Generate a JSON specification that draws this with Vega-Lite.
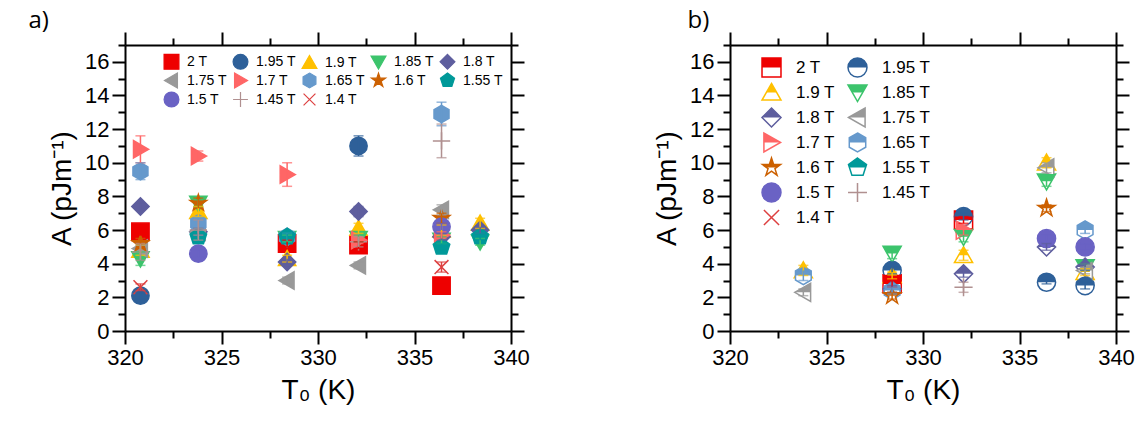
{
  "$schema": "https://vega.github.io/schema/vega-lite/v6.json",
  "padding": {"left": 28, "top": 9, "right": 5, "bottom": 5},
  "spacing": 123,
  "resolve": {"scale": {"fill": "independent", "stroke": "independent", "shape": "independent", "color": "independent"}, "legend": {"fill": "independent", "stroke": "independent", "shape": "independent", "color": "independent"}},
  "datasets": {
    "a": [
      {"s": "2 T", "x": 320.8, "A": 5.9, "e": 0.2},
      {"s": "2 T", "x": 328.4, "A": 5.2, "e": 0.2},
      {"s": "2 T", "x": 332.1, "A": 5.1, "e": 0.2},
      {"s": "2 T", "x": 336.4, "A": 2.7, "e": 0.1},
      {"s": "1.95 T", "x": 320.8, "A": 2.1, "e": 0.2},
      {"s": "1.95 T", "x": 332.1, "A": 11.0, "e": 0.6},
      {"s": "1.9 T", "x": 320.8, "A": 4.8, "e": 0.3},
      {"s": "1.9 T", "x": 323.8, "A": 7.1, "e": 0.3},
      {"s": "1.9 T", "x": 328.4, "A": 4.3, "e": 0.2},
      {"s": "1.9 T", "x": 332.1, "A": 6.1, "e": 0.3},
      {"s": "1.9 T", "x": 336.4, "A": 6.0, "e": 0.3},
      {"s": "1.9 T", "x": 338.4, "A": 6.4, "e": 0.3},
      {"s": "1.85 T", "x": 320.8, "A": 4.3, "e": 0.4},
      {"s": "1.85 T", "x": 323.8, "A": 7.6, "e": 0.2},
      {"s": "1.85 T", "x": 328.4, "A": 5.5, "e": 0.2},
      {"s": "1.85 T", "x": 332.1, "A": 5.5, "e": 0.2},
      {"s": "1.85 T", "x": 336.4, "A": 5.4, "e": 0.2},
      {"s": "1.85 T", "x": 338.4, "A": 5.3, "e": 0.2},
      {"s": "1.8 T", "x": 320.8, "A": 7.4, "e": 0.2},
      {"s": "1.8 T", "x": 323.8, "A": 5.9, "e": 0.2},
      {"s": "1.8 T", "x": 328.4, "A": 4.1, "e": 0.2},
      {"s": "1.8 T", "x": 332.1, "A": 7.1, "e": 0.3},
      {"s": "1.8 T", "x": 336.4, "A": 5.6, "e": 0.2},
      {"s": "1.8 T", "x": 338.4, "A": 6.0, "e": 0.2},
      {"s": "1.75 T", "x": 320.8, "A": 4.9, "e": 0.2},
      {"s": "1.75 T", "x": 323.8, "A": 5.9, "e": 0.2},
      {"s": "1.75 T", "x": 328.4, "A": 3.0, "e": 0.2},
      {"s": "1.75 T", "x": 332.1, "A": 3.9, "e": 0.2},
      {"s": "1.75 T", "x": 336.4, "A": 7.2, "e": 0.3},
      {"s": "1.7 T", "x": 320.8, "A": 10.8, "e": 0.8},
      {"s": "1.7 T", "x": 323.8, "A": 10.4, "e": 0.3},
      {"s": "1.7 T", "x": 328.4, "A": 9.3, "e": 0.7},
      {"s": "1.7 T", "x": 332.1, "A": 5.4, "e": 0.2},
      {"s": "1.7 T", "x": 336.4, "A": 5.7, "e": 0.2},
      {"s": "1.65 T", "x": 320.8, "A": 9.5, "e": 0.5},
      {"s": "1.65 T", "x": 323.8, "A": 6.4, "e": 0.3},
      {"s": "1.65 T", "x": 328.4, "A": 5.6, "e": 0.2},
      {"s": "1.65 T", "x": 336.4, "A": 12.9, "e": 0.7},
      {"s": "1.6 T", "x": 320.8, "A": 5.2, "e": 0.3},
      {"s": "1.6 T", "x": 323.8, "A": 7.6, "e": 0.3},
      {"s": "1.6 T", "x": 336.4, "A": 6.7, "e": 0.3},
      {"s": "1.55 T", "x": 323.8, "A": 5.6, "e": 0.2},
      {"s": "1.55 T", "x": 328.4, "A": 5.6, "e": 0.2},
      {"s": "1.55 T", "x": 336.4, "A": 5.0, "e": 0.2},
      {"s": "1.55 T", "x": 338.4, "A": 5.6, "e": 0.2},
      {"s": "1.5 T", "x": 323.8, "A": 4.6, "e": 0.2},
      {"s": "1.5 T", "x": 336.4, "A": 6.2, "e": 0.2},
      {"s": "1.45 T", "x": 320.8, "A": 4.7, "e": 0.5},
      {"s": "1.45 T", "x": 323.8, "A": 6.0, "e": 0.6},
      {"s": "1.45 T", "x": 332.1, "A": 5.3, "e": 0.3},
      {"s": "1.45 T", "x": 336.4, "A": 11.3, "e": 1.0},
      {"s": "1.4 T", "x": 320.8, "A": 2.6, "e": 0.2},
      {"s": "1.4 T", "x": 336.4, "A": 3.8, "e": 0.3}
    ],
    "b": [
      {"s": "2 T", "x": 328.4, "A": 2.8, "e": 0.2},
      {"s": "2 T", "x": 332.1, "A": 6.6, "e": 0.2},
      {"s": "1.95 T", "x": 328.4, "A": 3.6, "e": 0.2},
      {"s": "1.95 T", "x": 332.1, "A": 6.8, "e": 0.2},
      {"s": "1.95 T", "x": 336.4, "A": 2.9, "e": 0.1},
      {"s": "1.95 T", "x": 338.4, "A": 2.7, "e": 0.2},
      {"s": "1.9 T", "x": 323.8, "A": 3.6, "e": 0.3},
      {"s": "1.9 T", "x": 328.4, "A": 3.3, "e": 0.2},
      {"s": "1.9 T", "x": 332.1, "A": 4.5, "e": 0.3},
      {"s": "1.9 T", "x": 336.4, "A": 10.0, "e": 0.3},
      {"s": "1.9 T", "x": 338.4, "A": 3.5, "e": 0.2},
      {"s": "1.85 T", "x": 328.4, "A": 4.6, "e": 0.3},
      {"s": "1.85 T", "x": 332.1, "A": 5.6, "e": 0.3},
      {"s": "1.85 T", "x": 336.4, "A": 8.9, "e": 0.3},
      {"s": "1.85 T", "x": 338.4, "A": 3.8, "e": 0.2},
      {"s": "1.8 T", "x": 328.4, "A": 2.5, "e": 0.2},
      {"s": "1.8 T", "x": 332.1, "A": 3.4, "e": 0.2},
      {"s": "1.8 T", "x": 336.4, "A": 5.0, "e": 0.2},
      {"s": "1.8 T", "x": 338.4, "A": 3.8, "e": 0.2},
      {"s": "1.75 T", "x": 323.8, "A": 2.3, "e": 0.2},
      {"s": "1.75 T", "x": 336.4, "A": 9.7, "e": 0.3},
      {"s": "1.75 T", "x": 338.4, "A": 3.6, "e": 0.2},
      {"s": "1.7 T", "x": 332.1, "A": 6.0, "e": 0.3},
      {"s": "1.65 T", "x": 323.8, "A": 3.3, "e": 0.3},
      {"s": "1.65 T", "x": 328.4, "A": 2.4, "e": 0.2},
      {"s": "1.65 T", "x": 338.4, "A": 6.0, "e": 0.2},
      {"s": "1.6 T", "x": 328.4, "A": 2.1, "e": 0.2},
      {"s": "1.6 T", "x": 336.4, "A": 7.3, "e": 0.2},
      {"s": "1.5 T", "x": 336.4, "A": 5.5, "e": 0.2},
      {"s": "1.5 T", "x": 338.4, "A": 5.0, "e": 0.2},
      {"s": "1.45 T", "x": 332.1, "A": 2.6, "e": 0.3}
    ]
  },
  "hconcat": [
    {
      "width": 386,
      "height": 286,
      "title": {"text": "a)", "anchor": "start", "frame": "bounds", "fontSize": 24, "fontWeight": "normal", "font": "Open Sans", "offset": -2, "dx": -20},
      "data": {"name": "a"},
      "layer": [
        {
          "mark": {"type": "point", "filled": true, "size": 300, "strokeWidth": 1.5, "opacity": 1},
          "encoding": {
            "x": {"field": "x", "type": "quantitative", "scale": {"domain": [320, 340], "nice": false},
              "axis": {"orient": "bottom", "title": "T₀ (K)", "values": [320, 322.5, 325, 327.5, 330, 332.5, 335, 337.5, 340], "format": "d", "labelExpr": "datum.value % 5 == 0 ? datum.label : ''", "tickSize": {"condition": {"test": "datum.value % 5 == 0", "value": 13}, "value": 7}, "labelOverlap": false, "labelFlush": false}},
            "y": {"field": "A", "type": "quantitative", "scale": {"domain": [0, 17], "nice": false},
              "axis": {"orient": "left", "title": "A (pJm⁻¹)", "values": [0, 1, 2, 3, 4, 5, 6, 7, 8, 9, 10, 11, 12, 13, 14, 15, 16, 17], "labelExpr": "datum.value % 2 == 0 ? datum.label : ''", "tickSize": {"condition": {"test": "datum.value % 2 == 0", "value": 13}, "value": 7}, "labelOverlap": false, "labelFlush": false}},
            "fill": {"field": "s", "type": "nominal", "scale": {"domain": ["2 T", "1.95 T", "1.9 T", "1.85 T", "1.8 T", "1.75 T", "1.7 T", "1.65 T", "1.6 T", "1.55 T", "1.5 T", "1.45 T", "1.4 T"], "range": ["#EE0000", "#2E6099", "#FFC000", "#3CC46C", "#5E5E9E", "#999999", "#FF6666", "#6699CC", "#CC6000", "#009999", "#6A62C4", "#B09090", "#DD4040"]},
              "legend": {"orient": "none", "direction": "horizontal", "legendX": 38, "legendY": 8, "columns": 5, "title": null, "symbolSize": 220, "labelFontSize": 14, "labelOffset": 7, "columnPadding": 3, "rowPadding": -3, "symbolStrokeWidth": 1.2}},
            "stroke": {"field": "s", "type": "nominal", "scale": {"domain": ["2 T", "1.95 T", "1.9 T", "1.85 T", "1.8 T", "1.75 T", "1.7 T", "1.65 T", "1.6 T", "1.55 T", "1.5 T", "1.45 T", "1.4 T"], "range": ["#EE0000", "#2E6099", "#FFC000", "#3CC46C", "#5E5E9E", "#999999", "#FF6666", "#6699CC", "#CC6000", "#009999", "#6A62C4", "#B09090", "#DD4040"]},
              "legend": {"orient": "none", "direction": "horizontal", "legendX": 38, "legendY": 8, "columns": 5, "title": null, "symbolSize": 220, "labelFontSize": 14, "labelOffset": 7, "columnPadding": 3, "rowPadding": -3, "symbolStrokeWidth": 1.2}},
            "shape": {"field": "s", "type": "nominal", "scale": {"domain": ["2 T", "1.95 T", "1.9 T", "1.85 T", "1.8 T", "1.75 T", "1.7 T", "1.65 T", "1.6 T", "1.55 T", "1.5 T", "1.45 T", "1.4 T"], "range": ["M-1,-1L1,-1L1,1L-1,1Z", "circle", "M0,-0.95L1,0.8L-1,0.8Z", "M-1,-0.8L1,-0.8L0,0.95Z", "M0,-1L1,0L0,1L-1,0Z", "M-0.95,0L0.8,-1L0.8,1Z", "M0.95,0L-0.8,-1L-0.8,1Z", "M0,-1L0.866,-0.5L0.866,0.5L0,1L-0.866,0.5L-0.866,-0.5Z", "M0,-1L0.225,-0.309L0.951,-0.309L0.363,0.118L0.588,0.809L0,0.382L-0.588,0.809L-0.363,0.118L-0.951,-0.309L-0.225,-0.309Z", "M0,-1L0.951,-0.309L0.588,0.809L-0.588,0.809L-0.951,-0.309Z", "circle", "M-1,0L1,0M0,-1L0,1", "M-0.8,-0.8L0.8,0.8M-0.8,0.8L0.8,-0.8"]},
              "legend": {"orient": "none", "direction": "horizontal", "legendX": 38, "legendY": 8, "columns": 5, "title": null, "symbolSize": 220, "labelFontSize": 14, "labelOffset": 7, "columnPadding": 3, "rowPadding": -3, "symbolStrokeWidth": 1.2}}
          }
        },
        {
          "mark": {"type": "errorbar", "ticks": {"size": 10}, "thickness": 1.5},
          "encoding": {
            "x": {"field": "x", "type": "quantitative", "axis": null},
            "y": {"field": "A", "type": "quantitative", "axis": null},
            "yError": {"field": "e"},
            "color": {"field": "s", "type": "nominal", "legend": null, "scale": {"domain": ["2 T", "1.95 T", "1.9 T", "1.85 T", "1.8 T", "1.75 T", "1.7 T", "1.65 T", "1.6 T", "1.55 T", "1.5 T", "1.45 T", "1.4 T"], "range": ["#EE0000", "#2E6099", "#FFC000", "#3CC46C", "#5E5E9E", "#999999", "#FF6666", "#6699CC", "#CC6000", "#009999", "#6A62C4", "#B09090", "#DD4040"]}}
          }
        },
        {
          "mark": {"type": "point", "opacity": 0},
          "encoding": {
            "x": {"field": "x", "type": "quantitative", "axis": {"orient": "top", "title": null, "labels": false, "values": [320, 322.5, 325, 327.5, 330, 332.5, 335, 337.5, 340], "tickSize": {"condition": {"test": "datum.value % 5 == 0", "value": 13}, "value": 7}}},
            "y": {"field": "A", "type": "quantitative", "axis": {"orient": "right", "title": null, "labels": false, "values": [0, 1, 2, 3, 4, 5, 6, 7, 8, 9, 10, 11, 12, 13, 14, 15, 16, 17], "tickSize": {"condition": {"test": "datum.value % 2 == 0", "value": 13}, "value": 7}}}
          }
        }
      ],
      "resolve": {"axis": {"x": "independent", "y": "independent"}}
    },
    {
      "width": 386,
      "height": 286,
      "title": {"text": "b)", "anchor": "start", "frame": "bounds", "fontSize": 24, "fontWeight": "normal", "font": "Open Sans", "offset": -2, "dx": 34},
      "data": {"name": "b"},
      "layer": [
        {
          "mark": {"type": "point", "filled": true, "fill": "white", "size": 330, "strokeWidth": 1.5, "opacity": 1},
          "encoding": {
            "x": {"field": "x", "type": "quantitative", "scale": {"domain": [320, 340], "nice": false},
              "axis": {"orient": "bottom", "title": "T₀ (K)", "values": [320, 322.5, 325, 327.5, 330, 332.5, 335, 337.5, 340], "format": "d", "labelExpr": "datum.value % 5 == 0 ? datum.label : ''", "tickSize": {"condition": {"test": "datum.value % 5 == 0", "value": 13}, "value": 7}, "labelOverlap": false, "labelFlush": false}},
            "y": {"field": "A", "type": "quantitative", "scale": {"domain": [0, 17], "nice": false},
              "axis": {"orient": "left", "title": "A (pJm⁻¹)", "values": [0, 1, 2, 3, 4, 5, 6, 7, 8, 9, 10, 11, 12, 13, 14, 15, 16, 17], "labelExpr": "datum.value % 2 == 0 ? datum.label : ''", "tickSize": {"condition": {"test": "datum.value % 2 == 0", "value": 13}, "value": 7}, "labelOverlap": false, "labelFlush": false}},
            "stroke": {"field": "s", "type": "nominal", "scale": {"domain": ["2 T", "1.95 T", "1.9 T", "1.85 T", "1.8 T", "1.75 T", "1.7 T", "1.65 T", "1.6 T", "1.55 T", "1.5 T", "1.45 T", "1.4 T"], "range": ["#EE0000", "#2E6099", "#FFC000", "#3CC46C", "#5E5E9E", "#999999", "#FF6666", "#6699CC", "#CC6000", "#009999", "#6A62C4", "#B09090", "#DD4040"]},
              "legend": {"orient": "none", "direction": "horizontal", "gridAlign": "all", "legendX": 31, "legendY": 12, "columns": 2, "title": null, "symbolSize": 360, "labelFontSize": 17, "labelOffset": 14, "columnPadding": 0, "rowPadding": 0, "symbolStrokeWidth": 1.5, "symbolFillColor": "white"}},
            "shape": {"field": "s", "type": "nominal", "scale": {"domain": ["2 T", "1.95 T", "1.9 T", "1.85 T", "1.8 T", "1.75 T", "1.7 T", "1.65 T", "1.6 T", "1.55 T", "1.5 T", "1.45 T", "1.4 T"], "range": ["M-1,-1L1,-1L1,1L-1,1Z", "circle", "M0,-0.95L1,0.8L-1,0.8Z", "M-1,-0.8L1,-0.8L0,0.95Z", "M0,-1L1,0L0,1L-1,0Z", "M-0.95,0L0.8,-1L0.8,1Z", "M0.95,0L-0.8,-1L-0.8,1Z", "M0,-1L0.866,-0.5L0.866,0.5L0,1L-0.866,0.5L-0.866,-0.5Z", "M0,-1L0.225,-0.309L0.951,-0.309L0.363,0.118L0.588,0.809L0,0.382L-0.588,0.809L-0.363,0.118L-0.951,-0.309L-0.225,-0.309Z", "M0,-1L0.951,-0.309L0.588,0.809L-0.588,0.809L-0.951,-0.309Z", "circle", "M-1,0L1,0M0,-1L0,1", "M-0.8,-0.8L0.8,0.8M-0.8,0.8L0.8,-0.8"]},
              "legend": {"orient": "none", "direction": "horizontal", "gridAlign": "all", "legendX": 31, "legendY": 12, "columns": 2, "title": null, "symbolSize": 360, "labelFontSize": 17, "labelOffset": 14, "columnPadding": 0, "rowPadding": 0, "symbolStrokeWidth": 1.5, "symbolFillColor": "white"}}
          }
        },
        {
          "mark": {"type": "point", "filled": true, "size": 330, "strokeWidth": 0, "opacity": 1},
          "encoding": {
            "x": {"field": "x", "type": "quantitative", "axis": null},
            "y": {"field": "A", "type": "quantitative", "axis": null},
            "fill": {"field": "s", "type": "nominal", "scale": {"domain": ["2 T", "1.95 T", "1.9 T", "1.85 T", "1.8 T", "1.75 T", "1.7 T", "1.65 T", "1.6 T", "1.55 T", "1.5 T", "1.45 T", "1.4 T"], "range": ["#EE0000", "#2E6099", "#FFC000", "#3CC46C", "#5E5E9E", "#999999", "#FF6666", "#6699CC", "#CC6000", "#009999", "#6A62C4", "#B09090", "#DD4040"]},
              "legend": {"orient": "none", "direction": "horizontal", "gridAlign": "all", "legendX": 31, "legendY": 12, "columns": 2, "title": null, "symbolSize": 360, "labelFontSize": 17, "labelOffset": 14, "columnPadding": 0, "rowPadding": 0, "symbolStrokeWidth": 1.5, "symbolStrokeColor": "transparent", "labelOpacity": 0}},
            "shape": {"field": "s", "type": "nominal", "scale": {"domain": ["2 T", "1.95 T", "1.9 T", "1.85 T", "1.8 T", "1.75 T", "1.7 T", "1.65 T", "1.6 T", "1.55 T", "1.5 T", "1.45 T", "1.4 T"], "range": ["M-1,-1L1,-1L1,0L-1,0ZM0,1L0,1", "M-1,0A1,1,0,0,1,1,0ZM0,1L0,1", "M0,-0.95L0.543,0L-0.543,0ZM0,0.8L0,0.8", "M-1,-0.8L1,-0.8L0.543,0L-0.543,0ZM0,0.95L0,0.95", "M0,-1L1,0L-1,0ZM0,1L0,1", "M-0.95,0L0.8,-1L0.8,0ZM0.8,1L0.8,1", "M0.95,0L-0.8,-1L-0.8,0ZM-0.8,1L-0.8,1", "M0,-1L0.866,-0.5L0.866,0L-0.866,0L-0.866,-0.5ZM0,1L0,1", "M0,-1L0.225,-0.309L0.951,-0.309L0.525,0L-0.525,0L-0.951,-0.309L-0.225,-0.309ZM0,0.809L0,0.809", "M0,-1L0.951,-0.309L0.851,0L-0.851,0L-0.951,-0.309ZM0,0.809L0,0.809", "circle", "M-1,0L1,0M0,-1L0,1", "M-0.8,-0.8L0.8,0.8M-0.8,0.8L0.8,-0.8"]},
              "legend": {"orient": "none", "direction": "horizontal", "gridAlign": "all", "legendX": 31, "legendY": 12, "columns": 2, "title": null, "symbolSize": 360, "labelFontSize": 17, "labelOffset": 14, "columnPadding": 0, "rowPadding": 0, "symbolStrokeWidth": 1.5, "symbolStrokeColor": "transparent", "labelOpacity": 0}}
          }
        },
        {
          "mark": {"type": "errorbar", "ticks": {"size": 10}, "thickness": 1.5},
          "encoding": {
            "x": {"field": "x", "type": "quantitative", "axis": null},
            "y": {"field": "A", "type": "quantitative", "axis": null},
            "yError": {"field": "e"},
            "color": {"field": "s", "type": "nominal", "legend": null, "scale": {"domain": ["2 T", "1.95 T", "1.9 T", "1.85 T", "1.8 T", "1.75 T", "1.7 T", "1.65 T", "1.6 T", "1.55 T", "1.5 T", "1.45 T", "1.4 T"], "range": ["#EE0000", "#2E6099", "#FFC000", "#3CC46C", "#5E5E9E", "#999999", "#FF6666", "#6699CC", "#CC6000", "#009999", "#6A62C4", "#B09090", "#DD4040"]}}
          }
        },
        {
          "mark": {"type": "point", "opacity": 0},
          "encoding": {
            "x": {"field": "x", "type": "quantitative", "axis": {"orient": "top", "title": null, "labels": false, "values": [320, 322.5, 325, 327.5, 330, 332.5, 335, 337.5, 340], "tickSize": {"condition": {"test": "datum.value % 5 == 0", "value": 13}, "value": 7}}},
            "y": {"field": "A", "type": "quantitative", "axis": {"orient": "right", "title": null, "labels": false, "values": [0, 1, 2, 3, 4, 5, 6, 7, 8, 9, 10, 11, 12, 13, 14, 15, 16, 17], "tickSize": {"condition": {"test": "datum.value % 2 == 0", "value": 13}, "value": 7}}}
          }
        }
      ],
      "resolve": {"scale": {"shape": "independent", "fill": "independent", "stroke": "independent"}, "legend": {"shape": "independent", "fill": "independent", "stroke": "independent"}, "axis": {"x": "independent", "y": "independent"}}
    }
  ],
  "config": {
    "font": "Liberation Sans",
    "view": {"stroke": null},
    "axis": {"domainColor": "black", "domainWidth": 2, "tickColor": "black", "tickWidth": 2, "labelFont": "Liberation Sans", "labelFontSize": 22, "labelColor": "black", "titleFont": "Liberation Sans", "titleFontSize": 28, "titleFontWeight": "normal", "titleColor": "black", "grid": false, "labelPadding": 3, "titlePadding": 8},
    "legend": {"labelFont": "Liberation Sans", "labelColor": "black", "padding": 0}
  }
}
